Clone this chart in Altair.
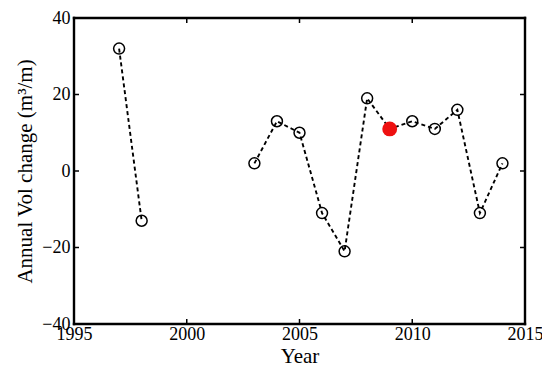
import altair as alt
import pandas as pd

years = [1997, 1998, 2003, 2004, 2005, 2006, 2007, 2008, 2009, 2010, 2011, 2012, 2013, 2014]
values = [32, -13, 2, 13, 10, -11, -21, 19, 11, 13, 11, 16, -11, 2]
segments = ["a", "a", "b", "b", "b", "b", "b", "b", "b", "b", "b", "b", "b", "b"]
highlight_year = 2009

x_ticks = [1995, 2000, 2005, 2010, 2015]
y_ticks = [-40, -20, 0, 20, 40]

W, H = 451, 306
FONT = "Liberation Serif"

df = pd.DataFrame({"Year": years, "Val": values, "seg": segments})
df_open = df[df["Year"] != highlight_year]
df_hl = df[df["Year"] == highlight_year]

xs = alt.Scale(domain=[1995, 2015], nice=False, zero=False)
ys = alt.Scale(domain=[-40, 40], nice=False, zero=False)

x_enc = alt.X("Year:Q", scale=xs, title="Year",
              axis=alt.Axis(values=x_ticks, format="d", ticks=False, domain=False, grid=False,
                            labelFont=FONT, labelFontSize=18, labelColor="black", labelPadding=1,
                            labelFlush=False, labelOverlap=False,
                            titleFont=FONT, titleFontSize=21, titleFontWeight="normal",
                            titleColor="black", titlePadding=2))
y_enc = alt.Y("Val:Q", scale=ys, title="Annual Vol change (m³/m)",
              axis=alt.Axis(values=y_ticks, ticks=False, domain=False, grid=False,
                            labelFont=FONT, labelFontSize=18, labelColor="black", labelPadding=4,
                            labelFlush=False, labelOverlap=False,
                            titleFont=FONT, titleFontSize=21, titleFontWeight="normal",
                            titleColor="black", titlePadding=6))

line = alt.Chart(df).mark_line(color="black", strokeWidth=1.9, strokeDash=[4, 3]).encode(
    x=x_enc, y=y_enc, detail="seg:N")
pts = alt.Chart(df_open).mark_point(shape="circle", size=120, color="black", strokeWidth=1.5,
                                    filled=False, opacity=1).encode(x="Year:Q", y="Val:Q")
hl = alt.Chart(df_hl).mark_point(shape="circle", size=220, color="#ee1111", filled=True,
                                 opacity=1).encode(x="Year:Q", y="Val:Q")

ydf = pd.DataFrame({"t": y_ticks})
xdf = pd.DataFrame({"t": x_ticks})
tl = alt.Chart(ydf).mark_rule(color="black", strokeWidth=1.5).encode(
    y=alt.Y("t:Q", scale=ys), x=alt.value(0), x2=alt.value(5))
tr = alt.Chart(ydf).mark_rule(color="black", strokeWidth=1.5).encode(
    y=alt.Y("t:Q", scale=ys), x=alt.value(W - 5), x2=alt.value(W))
tb = alt.Chart(xdf).mark_rule(color="black", strokeWidth=1.5).encode(
    x=alt.X("t:Q", scale=xs), y=alt.value(H - 5), y2=alt.value(H))
tt = alt.Chart(xdf).mark_rule(color="black", strokeWidth=1.5).encode(
    x=alt.X("t:Q", scale=xs), y=alt.value(0), y2=alt.value(5))

# frame drawn from the axis extremes through the shared scales
frame_x = pd.DataFrame({"a": [1995, 2015], "b": [-40, -40], "b2": [40, 40]})
frame_y = pd.DataFrame({"b": [-40, 40], "a": [1995, 1995], "a2": [2015, 2015]})
fw = 2.4
f_v = alt.Chart(frame_x).mark_rule(color="black", strokeWidth=fw, strokeCap="square").encode(
    x=alt.X("a:Q", scale=xs), y=alt.Y("b:Q", scale=ys), y2="b2:Q")
f_h = alt.Chart(frame_y).mark_rule(color="black", strokeWidth=fw, strokeCap="square").encode(
    y=alt.Y("b:Q", scale=ys), x=alt.X("a:Q", scale=xs), x2="a2:Q")

chart = alt.layer(line, pts, hl, tl, tr, tb, tt, f_v, f_h).properties(
    width=W, height=H,
    background="white",
    autosize=alt.AutoSizeParams(type="none"),
    padding={"left": 66, "top": 10, "right": 17, "bottom": 45},
).configure_view(stroke=None)

chart.save("out.html", embed_options={"renderer": "svg", "actions": False})
